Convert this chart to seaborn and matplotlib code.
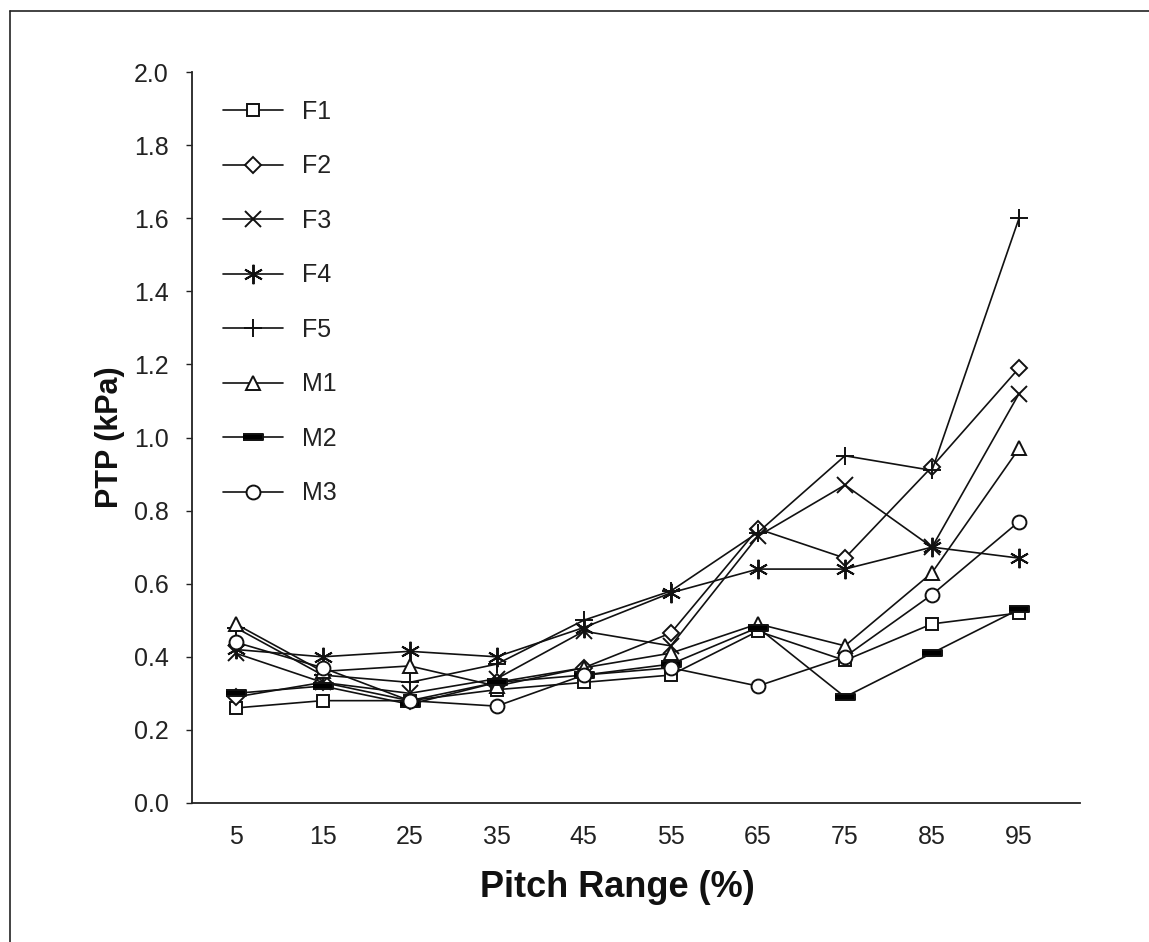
import numpy as np
import pandas as pd
import matplotlib
matplotlib.use("Agg")
import matplotlib.pyplot as plt
from matplotlib.lines import Line2D
import seaborn as sns

# ---- data ----
pitch = [5, 15, 25, 35, 45, 55, 65, 75, 85, 95]
F1 = [0.26, 0.28, 0.28, 0.31, 0.33, 0.35, 0.47, 0.39, 0.49, 0.52]
F2 = [0.29, 0.33, 0.28, 0.33, 0.37, 0.465, 0.75, 0.67, 0.92, 1.19]
F3 = [0.41, 0.33, 0.30, 0.34, 0.47, 0.43, 0.73, 0.87, 0.70, 1.12]
F4 = [0.42, 0.40, 0.415, 0.40, 0.48, 0.575, 0.64, 0.64, 0.70, 0.67]
F5 = [0.48, 0.35, 0.33, 0.38, 0.50, 0.58, 0.74, 0.95, 0.91, 1.60]
M1 = [0.49, 0.36, 0.375, 0.32, 0.37, 0.41, 0.49, 0.43, 0.63, 0.97]
M2 = [0.30, 0.32, 0.27, 0.33, 0.35, 0.38, 0.48, 0.29, 0.41, 0.53]
M3 = [0.44, 0.37, 0.28, 0.265, 0.35, 0.37, 0.32, 0.40, 0.57, 0.77]

series_names = ["F1", "F2", "F3", "F4", "F5", "M1", "M2", "M3"]
series_vals = [F1, F2, F3, F4, F5, M1, M2, M3]
y_ticks = [0.0, 0.2, 0.4, 0.6, 0.8, 1.0, 1.2, 1.4, 1.6, 1.8, 2.0]

bar_marker = [(-1, -0.32), (1, -0.32), (1, 0.32), (-1, 0.32)]
styles = {
    "F1": dict(marker="s", ms=9, mfc="white"),
    "F2": dict(marker="D", ms=8, mfc="white"),
    "F3": dict(marker="x", ms=11, mfc="black"),
    "F4": dict(marker=(6, 2, 0), ms=14, mfc="black"),
    "F5": dict(marker="+", ms=13, mfc="black"),
    "M1": dict(marker="^", ms=10, mfc="white"),
    "M2": dict(marker=bar_marker, ms=15, mfc="black"),
    "M3": dict(marker="o", ms=10, mfc="white"),
}

sns.set_style("ticks")
plt.rcParams["font.family"] = ["Liberation Sans", "DejaVu Sans"]

fig = plt.figure(figsize=(11.49, 9.42), dpi=100)
ax = fig.add_axes([192 / 1149, 1 - 803 / 942, (1080 - 192) / 1149, (803 - 72) / 942])

for name, vals in zip(series_names, series_vals):
    st = styles[name]
    df = pd.DataFrame({"x": pitch, "y": vals})
    sns.lineplot(data=df, x="x", y="y", ax=ax, color="#111111", linewidth=1.2,
                 marker=st["marker"], markersize=st["ms"],
                 markerfacecolor=st["mfc"], markeredgecolor="#111111",
                 markeredgewidth=1.4, label=name, estimator=None, sort=False)

ax.set_xlim(0, 102)
ax.set_ylim(0, 2.0)
ax.set_xticks(pitch)
ax.set_xticklabels([str(p) for p in pitch])
ax.set_yticks(y_ticks)
ax.set_yticklabels([f"{v:.1f}" for v in y_ticks])
ax.tick_params(axis="x", length=0, pad=16, labelsize=18, colors="#222222")
ax.tick_params(axis="y", length=4, width=1, pad=13, labelsize=18, colors="#222222")
for s in ["top", "right"]:
    ax.spines[s].set_visible(False)
for s in ["left", "bottom"]:
    ax.spines[s].set_linewidth(1.3)
    ax.spines[s].set_color("#222222")

ax.set_xlabel("Pitch Range (%)", fontsize=26, fontweight="bold", color="#111111")
ax.set_ylabel("PTP (kPa)", fontsize=22, fontweight="bold", color="#111111")
ax.xaxis.set_label_coords(0.479, -0.092)
ax.yaxis.set_label_coords(-0.076, 0.5)

leg = ax.legend(loc="upper left", bbox_to_anchor=(0.035, 0.962), frameon=False,
                fontsize=18, handlelength=2.4, handletextpad=0.76,
                labelspacing=1.22, borderpad=0, borderaxespad=0)
for t in leg.get_texts():
    t.set_color("#222222")

# scanned-page border (top and left)
fig.add_artist(Line2D([10 / 1149, 1.0], [1 - 11 / 942, 1 - 11 / 942],
                      transform=fig.transFigure, color="#222222", lw=1.2))
fig.add_artist(Line2D([10 / 1149, 10 / 1149], [0.0, 1 - 11 / 942],
                      transform=fig.transFigure, color="#222222", lw=1.2))

fig.savefig("out.png", dpi=100, facecolor="white")
